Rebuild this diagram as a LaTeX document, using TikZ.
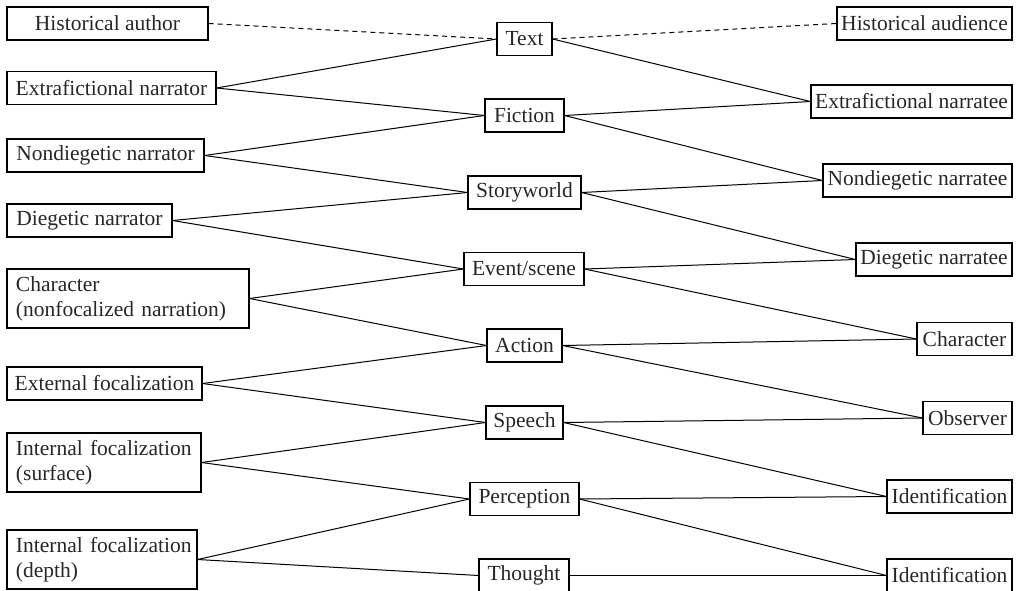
\documentclass[tikz,border=0pt]{standalone}
\usepackage{fontspec}
\setmainfont{Liberation Serif}
\begin{document}
\begin{tikzpicture}[x=1pt,y=-1pt,
  box/.style={draw, line width=1.1pt, inner sep=0pt, minimum height=33pt, font=\fontsize{21.5}{25}\selectfont, text=black!85},
  twoline/.style={box, align=left, inner xsep=9pt, inner ysep=0pt},
  link/.style={line width=1pt},
  dlink/.style={line width=1pt, dash pattern=on 5pt off 4pt}]
\useasboundingbox (0,0) rectangle (1022,591);
% left column
\node[box, minimum width=201pt] (ha) at (107.5,23.5) {Historical author};
\node[box, minimum width=209pt] (en) at (111.5,88) {Extrafictional narrator};
\node[box, minimum width=197pt] (nn) at (105.5,155.5) {Nondiegetic narrator};
\node[box, minimum width=165pt] (dn) at (89.5,220.5) {Diegetic narrator};
\node[twoline, text width=224pt, minimum height=59pt] (ch) at (128,298.5) {\mbox{Character}\\\mbox{(nonfocalized narration)}};
\node[box, minimum width=195pt] (ef) at (104.5,383.5) {External focalization};
\node[twoline, text width=176pt, minimum height=59pt] (is) at (104,462.5) {\mbox{Internal focalization}\\\mbox{(surface)}};
\node[twoline, text width=172pt, minimum height=59pt] (idp) at (102,559.5) {\mbox{Internal focalization}\\\mbox{(depth)}};
% middle column
\node[box, minimum width=55pt] (tx) at (524.5,39) {Text};
\node[box, minimum width=79pt] (fi) at (524.5,115.5) {Fiction};
\node[box, minimum width=113pt] (sw) at (524.5,192.5) {Storyworld};
\node[box, minimum width=120pt] (es) at (524,269) {Event/scene};
\node[box, minimum width=75pt] (ac) at (524.5,345.5) {Action};
\node[box, minimum width=77pt] (sp) at (524.5,422.5) {Speech};
\node[box, minimum width=109pt] (pe) at (524.5,499) {Perception};
\node[box, minimum width=90pt] (th) at (524,575.5) {Thought};
% right column
\node[box, minimum width=175pt] (hau) at (924.5,23.5) {Historical audience};
\node[box, minimum width=201pt] (ent) at (911.5,101.5) {Extrafictional narratee};
\node[box, minimum width=189pt] (nnt) at (917.5,180.5) {Nondiegetic narratee};
\node[box, minimum width=156pt] (dnt) at (934,259.5) {Diegetic narratee};
\node[box, minimum width=95pt] (chr) at (964.5,339) {Character};
\node[box, minimum width=89pt] (ob) at (967.5,418) {Observer};
\node[box, minimum width=125pt] (id1) at (949.5,496.5) {Identification};
\node[box, minimum width=125pt] (id2) at (949.5,575.5) {Identification};
% connectors
\draw[dlink] (ha.east) -- (tx.west);
\draw[dlink] (tx.east) -- (hau.west);
\draw[link] (en.east) -- (tx.west);
\draw[link] (en.east) -- (fi.west);
\draw[link] (nn.east) -- (fi.west);
\draw[link] (nn.east) -- (sw.west);
\draw[link] (dn.east) -- (sw.west);
\draw[link] (dn.east) -- (es.west);
\draw[link] (ch.east) -- (es.west);
\draw[link] (ch.east) -- (ac.west);
\draw[link] (ef.east) -- (ac.west);
\draw[link] (ef.east) -- (sp.west);
\draw[link] (is.east) -- (sp.west);
\draw[link] (is.east) -- (pe.west);
\draw[link] (idp.east) -- (pe.west);
\draw[link] (idp.east) -- (th.west);
\draw[link] (tx.east) -- (ent.west);
\draw[link] (fi.east) -- (ent.west);
\draw[link] (fi.east) -- (nnt.west);
\draw[link] (sw.east) -- (nnt.west);
\draw[link] (sw.east) -- (dnt.west);
\draw[link] (es.east) -- (dnt.west);
\draw[link] (es.east) -- (chr.west);
\draw[link] (ac.east) -- (chr.west);
\draw[link] (ac.east) -- (ob.west);
\draw[link] (sp.east) -- (ob.west);
\draw[link] (sp.east) -- (id1.west);
\draw[link] (pe.east) -- (id1.west);
\draw[link] (pe.east) -- (id2.west);
\draw[link] (th.east) -- (id2.west);
\end{tikzpicture}
\end{document}
